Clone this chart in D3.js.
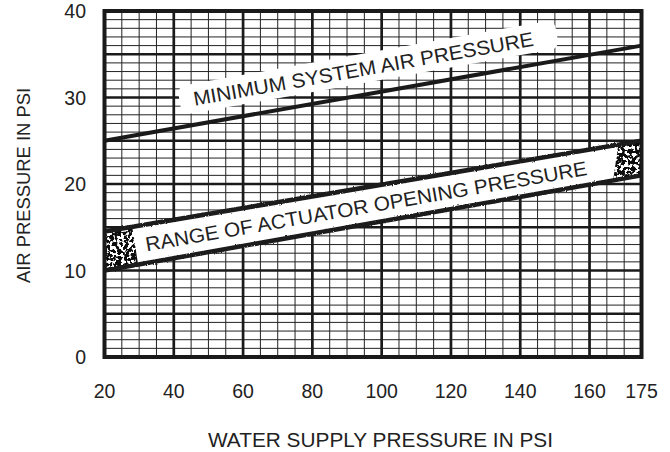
<!DOCTYPE html>
<html>
<head>
<meta charset="utf-8">
<script src="https://cdn.jsdelivr.net/npm/d3@7/dist/d3.min.js"></script>
<style>
  body { margin: 0; background: #fff; }
  text { font-family: "Liberation Sans", Arial, sans-serif; fill: #222; }
</style>
</head>
<body>
<script>
let width = 670;
let height = 452;

// chart values
const xTicks = [20, 40, 60, 80, 100, 120, 140, 160, 175];
const yTicks = [0, 10, 20, 30, 40];
const minAirWater = [20, 175];
const minAirPressure = [25, 36];
const rangeWater = [20, 175];
const rangeLow = [10, 21];
const rangeHigh = [14.5, 25];
const stippleLeft = [20, 28, 29.7];     // start, top end, bottom end (water psi)
const stippleRight = [168.3, 166.8, 175]; // top start, bottom start, end
const minLabel = "MINIMUM SYSTEM AIR PRESSURE";
const rangeLabel = "RANGE OF ACTUATOR OPENING PRESSURE";
const minLabelAt = 96;
const rangeLabelAt = 95.5;

let svg = d3.select("body")
            .append("svg")
            .attr("width", width)
            .attr("height", height);

let x = d3.scaleLinear().domain([20, 175]).range([104.5, 641.5]);
let y = d3.scaleLinear().domain([0, 40]).range([357, 11]);

let defs = svg.append("defs");

defs.append("clipPath").attr("id", "plot")
    .append("rect")
    .attr("x", x(20)).attr("y", y(40))
    .attr("width", x(175) - x(20)).attr("height", y(0) - y(40));

// rough edge for the band lines
let rough = defs.append("filter").attr("id", "rough")
    .attr("x", "-5%").attr("y", "-20%").attr("width", "110%").attr("height", "140%");
rough.append("feTurbulence").attr("type", "fractalNoise")
    .attr("baseFrequency", 0.9).attr("numOctaves", 1).attr("seed", 2).attr("result", "n");
rough.append("feDisplacementMap").attr("in", "SourceGraphic").attr("in2", "n")
    .attr("scale", 2.5).attr("xChannelSelector", "R").attr("yChannelSelector", "G");

// speckled ends of the band
let speckle = defs.append("filter").attr("id", "speckle")
    .attr("x", 0).attr("y", 0).attr("width", 1).attr("height", 1);
speckle.append("feTurbulence").attr("type", "fractalNoise")
    .attr("baseFrequency", 0.28).attr("numOctaves", 2).attr("seed", 5).attr("result", "n");
speckle.append("feColorMatrix").attr("in", "n").attr("type", "matrix")
    .attr("values", "0 0 0 0 0  0 0 0 0 0  0 0 0 0 0  -16 0 0 0 8.9").attr("result", "m");
speckle.append("feComposite").attr("in", "SourceGraphic").attr("in2", "m").attr("operator", "in");

let lowAt = d3.scaleLinear().domain(rangeWater).range(rangeLow);
let highAt = d3.scaleLinear().domain(rangeWater).range(rangeHigh);
let minAt = d3.scaleLinear().domain(minAirWater).range(minAirPressure);

function angleOf(ws, ps) {
    return Math.atan2(y(ps[1]) - y(ps[0]), x(ws[1]) - x(ws[0])) * 180 / Math.PI;
}

function drawGrid() {
    let g = svg.append("g").attr("clip-path", "url(#plot)");
    g.selectAll(".vminor").data(d3.range(20, 176, 5)).join("line")
        .attr("x1", d => x(d)).attr("x2", d => x(d))
        .attr("y1", y(40)).attr("y2", y(0))
        .style("stroke", "#222").style("stroke-width", 1);
    g.selectAll(".hminor").data(d3.range(0, 41, 1)).join("line")
        .attr("y1", d => y(d)).attr("y2", d => y(d))
        .attr("x1", x(20)).attr("x2", x(175))
        .style("stroke", "#222").style("stroke-width", 1);
    g.selectAll(".vmajor").data(d3.range(20, 176, 20)).join("line")
        .attr("x1", d => x(d)).attr("x2", d => x(d))
        .attr("y1", y(40)).attr("y2", y(0))
        .style("stroke", "#1a1a1a").style("stroke-width", 2.7);
    g.selectAll(".hmajor").data(d3.range(0, 41, 5)).join("line")
        .attr("y1", d => y(d)).attr("y2", d => y(d))
        .attr("x1", x(20)).attr("x2", x(175))
        .style("stroke", "#1a1a1a").style("stroke-width", 2.7);
}

function drawMinimum() {
    let ang = angleOf(minAirWater, minAirPressure);
    let len = 345;
    let lab = svg.append("g")
        .attr("transform", `translate(${x(minLabelAt)},${y(minAt(minLabelAt))}) rotate(${ang})`);
    lab.append("rect")
        .attr("x", -len / 2 - 14).attr("y", -18.7 - 22)
        .attr("width", len + 38).attr("height", 29)
        .attr("rx", 8)
        .style("fill", "#fff");

    let line = d3.line().x(d => x(d[0])).y(d => y(d[1]));
    svg.append("path")
        .attr("d", line(d3.zip(minAirWater, minAirPressure)))
        .attr("clip-path", "url(#plot)")
        .style("fill", "none").style("stroke", "#1a1a1a").style("stroke-width", 4);

    lab.append("text")
        .attr("x", 0).attr("y", -18.7)
        .attr("text-anchor", "middle")
        .attr("font-size", 20)
        .attr("textLength", len).attr("lengthAdjust", "spacingAndGlyphs")
        .text(minLabel);
}

function drawRange() {
    let g = svg.append("g").attr("clip-path", "url(#plot)");
    let pt = (w, p) => [x(w), y(p)];
    let band = [pt(rangeWater[0], rangeLow[0]), pt(rangeWater[1], rangeLow[1]),
                pt(rangeWater[1], rangeHigh[1]), pt(rangeWater[0], rangeHigh[0])];
    g.append("polygon").attr("points", band.join(" ")).style("fill", "#fff");

    let left = [pt(stippleLeft[0], lowAt(stippleLeft[0])), pt(stippleLeft[0], highAt(stippleLeft[0])),
                pt(stippleLeft[1], highAt(stippleLeft[1])), pt(stippleLeft[2], lowAt(stippleLeft[2]))];
    let right = [pt(stippleRight[0], highAt(stippleRight[0])), pt(stippleRight[2], highAt(stippleRight[2])),
                 pt(stippleRight[2], lowAt(stippleRight[2])), pt(stippleRight[1], lowAt(stippleRight[1]))];
    [left, right].forEach(p => {
        g.append("polygon").attr("points", p.join(" "))
            .attr("filter", "url(#speckle)")
            .style("fill", "#111");
    });

    let line = d3.line().x(d => x(d[0])).y(d => y(d[1]));
    let edges = g.append("g").attr("filter", "url(#rough)");
    [rangeLow, rangeHigh].forEach(ps => {
        edges.append("path")
            .attr("d", line(d3.zip(rangeWater, ps)))
            .style("fill", "none").style("stroke", "#1a1a1a").style("stroke-width", 4.5);
    });

    let ang = (angleOf(rangeWater, rangeLow) + angleOf(rangeWater, rangeHigh)) / 2;
    let mid = (lowAt(rangeLabelAt) + highAt(rangeLabelAt)) / 2;
    svg.append("text")
        .attr("transform", `translate(${x(rangeLabelAt)},${y(mid)}) rotate(${ang})`)
        .attr("y", 7.5)
        .attr("text-anchor", "middle")
        .attr("font-size", 20)
        .attr("textLength", 448).attr("lengthAdjust", "spacingAndGlyphs")
        .text(rangeLabel);
}

function drawAxes() {
    svg.append("rect")
        .attr("x", x(20)).attr("y", y(40))
        .attr("width", x(175) - x(20)).attr("height", y(0) - y(40))
        .style("fill", "none").style("stroke", "#1a1a1a").style("stroke-width", 4);

    svg.selectAll(".ylab").data(yTicks).join("text")
        .attr("x", 86).attr("y", d => y(d))
        .attr("dy", "0.36em")
        .attr("text-anchor", "end")
        .attr("font-size", 19.5)
        .text(d => d);

    svg.selectAll(".xlab").data(xTicks).join("text")
        .attr("x", d => x(d)).attr("y", 397.5)
        .attr("text-anchor", "middle")
        .attr("font-size", 19.5)
        .text(d => d);

    svg.append("text")
        .attr("x", 380.5).attr("y", 446.5)
        .attr("text-anchor", "middle")
        .attr("font-size", 20)
        .attr("textLength", 345).attr("lengthAdjust", "spacingAndGlyphs")
        .text("WATER SUPPLY PRESSURE IN PSI");

    svg.append("text")
        .attr("transform", "translate(30,185.5) rotate(-90)")
        .attr("text-anchor", "middle")
        .attr("font-size", 19)
        .attr("textLength", 195).attr("lengthAdjust", "spacingAndGlyphs")
        .text("AIR PRESSURE IN PSI");
}

drawGrid();
drawMinimum();
drawRange();
drawAxes();
</script>
</body>
</html>
